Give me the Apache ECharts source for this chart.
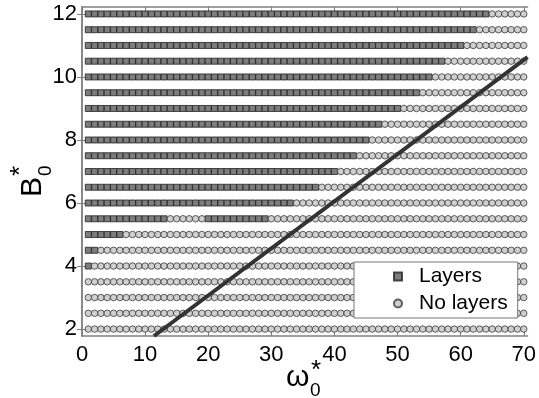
<!DOCTYPE html>
<html>
<head>
<meta charset="utf-8">
<script src="https://cdn.jsdelivr.net/npm/echarts@6/dist/echarts.min.js"></script>
<style>
  html, body { margin: 0; padding: 0; background: #fff; }
  #chart { width: 539px; height: 398px; }
</style>
</head>
<body>
<div id="chart"></div>
<script>
// Sampled parameter grid: omega0* values along each row
const omegaGrid = [1, 2, 3, 4, 5, 6, 7, 8, 9, 10, 11, 12, 13, 14, 15, 16, 17, 18, 19, 20,
  21, 22, 23, 24, 25, 26, 27, 28, 29, 30, 31, 32, 33, 34, 35, 36, 37, 38, 39, 40,
  41, 42, 43, 44, 45, 46, 47, 48, 49, 50, 51, 52, 53, 54, 55, 56, 57, 58, 59, 60,
  61, 62, 63, 64, 65, 66, 67, 68, 69, 70];

// B0* rows
const bRows = [2, 2.5, 3, 3.5, 4, 4.5, 5, 5.5, 6, 6.5, 7, 7.5, 8, 8.5, 9, 9.5, 10, 10.5, 11, 11.5, 12];

// omega0* intervals (inclusive) where layers form, one entry per row of bRows
const layerRanges = [
  [], [], [], [],
  [[1, 1]],
  [[1, 2]],
  [[1, 6]],
  [[1, 13], [20, 29]],
  [[1, 33]],
  [[1, 37]],
  [[1, 40]],
  [[1, 43]],
  [[1, 45]],
  [[1, 47]],
  [[1, 50]],
  [[1, 53]],
  [[1, 55]],
  [[1, 57]],
  [[1, 60]],
  [[1, 62]],
  [[1, 64]]
];

// Theoretical boundary curve
const boundaryOmega = [11.4, 70.6];
const boundaryB = [1.78, 10.63];

// Axis ticks
const xTicks = [0, 10, 20, 30, 40, 50, 60, 70];
const yTicks = [2, 4, 6, 8, 10, 12];

const layersPts = [];
const noLayersPts = [];
bRows.forEach(function (b, i) {
  omegaGrid.forEach(function (w) {
    const inLayer = layerRanges[i].some(function (r) { return w >= r[0] && w <= r[1]; });
    (inLayer ? layersPts : noLayersPts).push([w, b]);
  });
});
const boundaryPts = boundaryOmega.map(function (w, i) { return [w, boundaryB[i]]; });

const FONT = '"Liberation Sans", Arial, sans-serif';
const frameColor = '#808080';

function frameAxis(extra) {
  return Object.assign({
    type: 'value',
    axisLine: { show: true, lineStyle: { color: frameColor, width: 1.5 } },
    axisTick: { show: true, inside: true, length: 5, lineStyle: { color: frameColor, width: 1 } },
    splitLine: { show: false },
    axisLabel: { show: false }
  }, extra);
}

const chart = echarts.init(document.getElementById('chart'), null, { renderer: 'canvas' });
chart.setOption({
  animation: false,
  backgroundColor: '#fff',
  grid: { left: 82, right: 9, top: 7, bottom: 62 },
  xAxis: [
    frameAxis({
      position: 'bottom', min: 0, max: 70.6,
      axisTick: { show: true, inside: true, length: 5, customValues: xTicks, lineStyle: { color: frameColor, width: 1 } },
      axisLabel: { show: true, customValues: xTicks, fontSize: 22, color: '#000', fontFamily: FONT, margin: 8 }
    }),
    frameAxis({
      position: 'top', min: 0, max: 70.6,
      axisTick: { show: true, inside: true, length: 5, customValues: xTicks, lineStyle: { color: frameColor, width: 1 } }
    })
  ],
  yAxis: [
    frameAxis({
      position: 'left', min: 1.78, max: 12.22,
      axisTick: { show: true, inside: true, length: 5, customValues: yTicks, lineStyle: { color: frameColor, width: 1 } },
      axisLabel: { show: true, customValues: yTicks, fontSize: 22, color: '#000', fontFamily: FONT, margin: 5 }
    }),
    frameAxis({
      position: 'right', min: 1.78, max: 12.22,
      axisTick: { show: true, inside: true, length: 5, customValues: yTicks, lineStyle: { color: frameColor, width: 1 } }
    })
  ],
  legend: {
    left: 354, top: 262,
    orient: 'vertical',
    backgroundColor: '#fff',
    borderColor: '#777',
    borderWidth: 1,
    borderRadius: 0,
    padding: [4, 10, 4, 39],
    itemWidth: 8, itemHeight: 8, itemGap: 6,
    textStyle: { fontSize: 21, color: '#000', fontFamily: FONT, padding: [0, 0, 0, 12] },
    data: [{ name: 'Layers', icon: 'rect' }, { name: 'No layers', icon: 'circle' }],
    z: 10
  },
  series: [
    {
      name: 'Layers', type: 'scatter', data: layersPts,
      symbol: 'rect', symbolSize: 6,
      itemStyle: { color: '#5c5c5c', borderColor: '#222', borderWidth: 1 },
      z: 2
    },
    {
      name: 'No layers', type: 'scatter', data: noLayersPts,
      symbol: 'circle', symbolSize: 6.5,
      itemStyle: { color: '#c4c4c4', borderColor: '#3a3a3a', borderWidth: 1 },
      z: 2
    },
    {
      name: 'boundary', type: 'line', data: boundaryPts,
      showSymbol: false, symbol: 'none', clip: true,
      lineStyle: { color: '#333', width: 4 },
      z: 3
    }
  ],
  graphic: [
    {
      type: 'group', x: 286, y: 393,
      children: [
        { type: 'text', x: 0, y: 0, style: { text: 'ω', font: '30px ' + FONT, fill: '#000', verticalAlign: 'bottom' } },
        { type: 'text', x: 24, y: 7, style: { text: '0', font: '19px ' + FONT, fill: '#000', verticalAlign: 'bottom' } },
        { type: 'text', x: 25, y: -9, style: { text: '*', font: '26px ' + FONT, fill: '#000', verticalAlign: 'bottom' } }
      ]
    },
    {
      type: 'group', x: 48, y: 197, rotation: Math.PI / 2,
      children: [
        { type: 'text', x: 0, y: 0, style: { text: 'B', font: '30px ' + FONT, fill: '#000', verticalAlign: 'bottom' } },
        { type: 'text', x: 21, y: 7, style: { text: '0', font: '19px ' + FONT, fill: '#000', verticalAlign: 'bottom' } },
        { type: 'text', x: 21, y: -14, style: { text: '*', font: '26px ' + FONT, fill: '#000', verticalAlign: 'bottom' } }
      ]
    }
  ]
});
</script>
</body>
</html>
